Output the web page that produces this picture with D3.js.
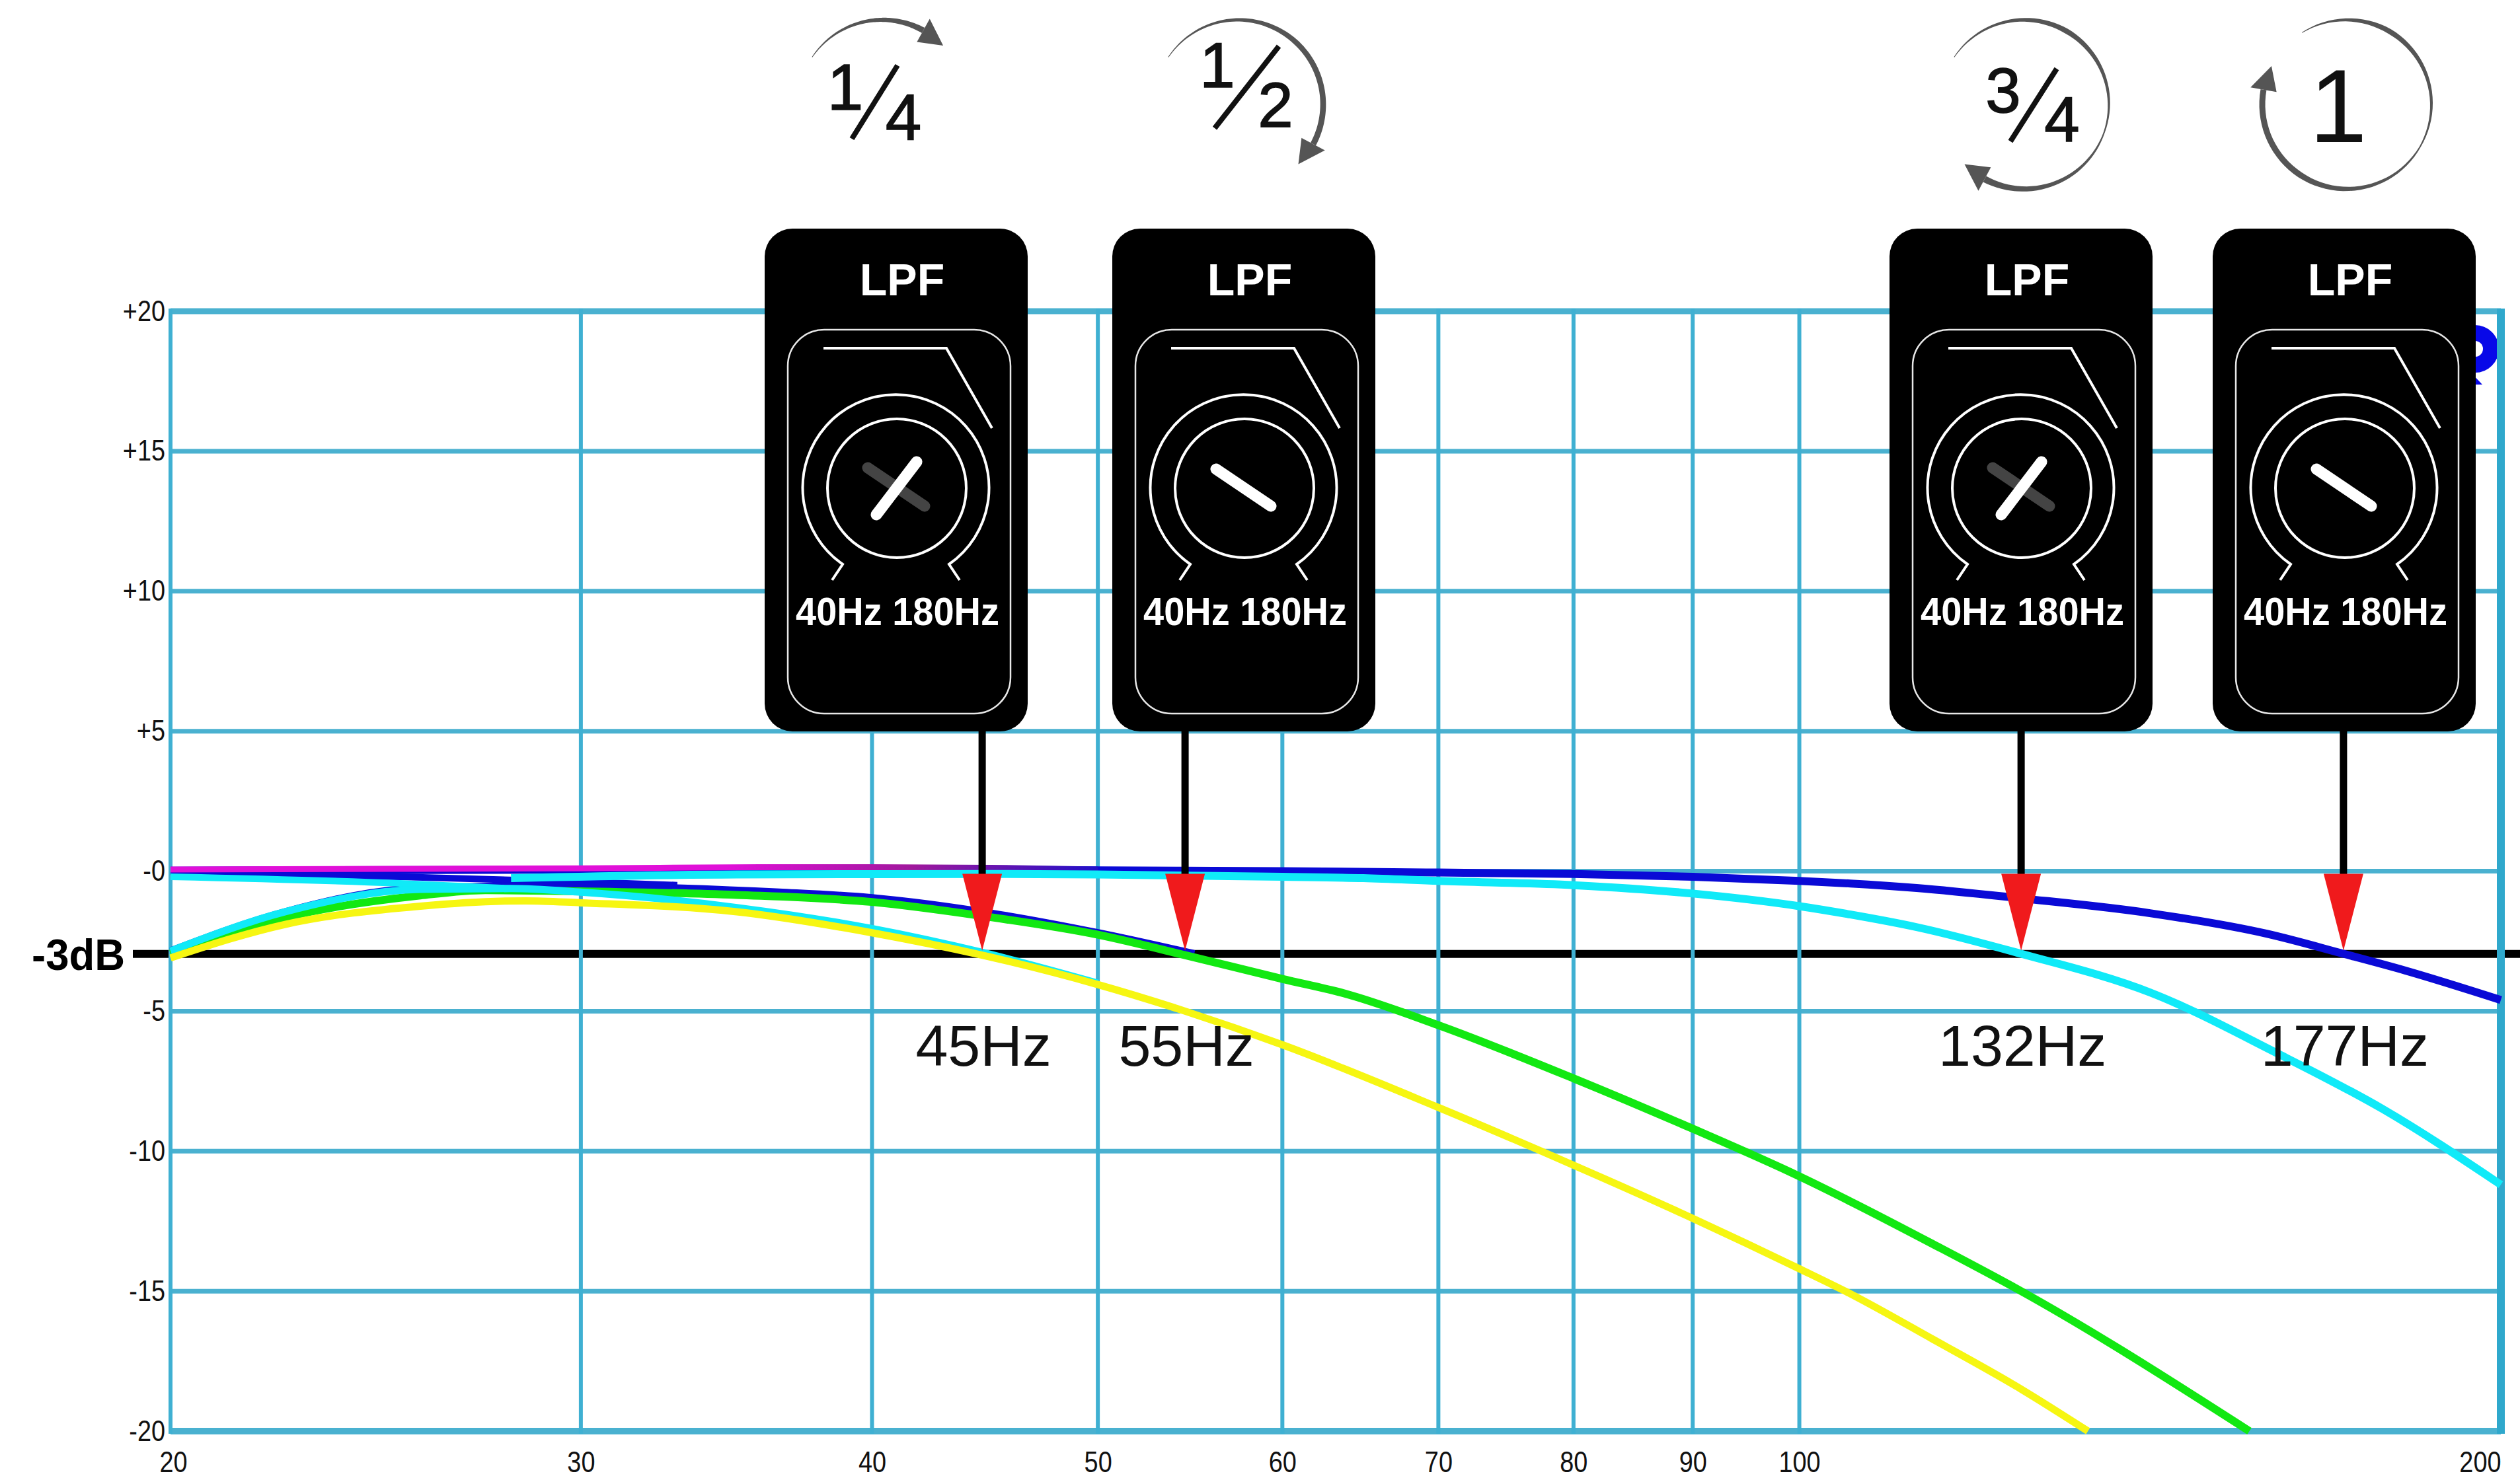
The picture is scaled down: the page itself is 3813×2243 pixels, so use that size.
<!DOCTYPE html>
<html>
<head>
<meta charset="utf-8">
<script src="https://cdn.jsdelivr.net/npm/d3@7"></script>
<style>
    html, body { margin: 0; padding: 0; background: #fff; }
    svg { display: block; }
    text { font-family: "Liberation Sans", Arial, sans-serif; }
</style>
</head>
<body>
<div id="chart"></div>
<script>
// axis ticks
const hzTicks = [20, 30, 40, 50, 60, 70, 80, 90, 100, 200];
const dbTicks = [20, 15, 10, 5, 0, -5, -10, -15, -20];
const dbTickLabels = ["+20", "+15", "+10", "+5", "-0", "-5", "-10", "-15", "-20"];

// curves (Hz / dB)
const magentaHz = [20, 25, 30, 36, 40, 45, 50];
const magentaDb = [0.06, 0.08, 0.1, 0.14, 0.14, 0.12, 0.06];

const navyHz = [20, 36, 45, 50, 60, 70, 80, 90, 100, 105.2, 112.3, 124.5, 141.4, 158.8, 171.2, 182, 200];
const navyDb = [0.02, 0.06, 0.05, 0.03, 0, -0.05, -0.1, -0.2, -0.35, -0.44, -0.6, -0.97, -1.5, -2.24, -2.95, -3.55, -4.6];

const navyLowHz = [20, 22.4, 25.6, 30, 33, 36.5, 40, 45, 50, 55];
const navyLowDb = [-2.85, -1.45, -0.6, -0.52, -0.6, -0.75, -0.95, -1.5, -2.2, -2.95];

const navyDipHz = [20, 25, 30, 33];
const navyDipDb = [-0.02, -0.2, -0.38, -0.5];

const cyanHz = [28, 35, 45, 50, 60, 65, 70, 80, 90, 100, 105.2, 112.3, 124.5, 141.4, 160.3, 178, 200];
const cyanDb = [-0.25, -0.12, -0.1, -0.12, -0.2, -0.25, -0.35, -0.5, -0.8, -1.25, -1.55, -2, -2.95, -4.33, -6.5, -8.5, -11.2];

const cyanDipHz = [20, 25, 28];
const cyanDipDb = [-0.2, -0.43, -0.62];

const cyanLowHz = [20, 22.4, 25.6, 28, 30, 35, 40, 44.6, 50];
const cyanLowDb = [-2.85, -1.45, -0.65, -0.62, -0.75, -1.3, -2.05, -2.9, -4];

const greenHz = [20, 22.4, 25.6, 27.3, 30, 35, 40, 44.6, 50, 54.5, 60, 64, 70, 80, 90, 100, 105.2, 114, 124.5, 156];
const greenDb = [-2.95, -1.65, -0.87, -0.68, -0.72, -0.85, -1.1, -1.6, -2.27, -3, -3.85, -4.4, -5.5, -7.4, -9.2, -10.9, -11.8, -13.3, -15, -20];

const yellowHz = [20, 22.4, 25.6, 28.4, 30, 35, 40, 44.6, 50, 54.5, 60, 70, 80, 90, 100, 105.2, 114, 124.5, 133];
const yellowDb = [-3.1, -1.9, -1.25, -1.06, -1.13, -1.45, -2.2, -3, -4.05, -5.0, -6.2, -8.44, -10.5, -12.4, -14.2, -15.1, -16.7, -18.5, -20];

// the four cutoff markers
const cutoffHz = [44.6, 54.5, 124.5, 171.2];
const cutoffLabels = ["45Hz", "55Hz", "132Hz", "177Hz"];

const width = 3813, height = 2243;
const plotLeft = 258, plotRight = 3784, plotTop = 471, plotBottom = 2166;

const gridColor = "#3fb0d2";

const x = d3.scaleLog().domain([20, 200]).range([plotLeft, plotRight]);
const y = d3.scaleLinear().domain([20, -20]).range([plotTop, plotBottom]);

const svg = d3.select("#chart").append("svg")
    .attr("width", width)
    .attr("height", height)
    .attr("viewBox", `0 0 ${width} ${height}`);

// magenta goes purple where the blue line shows through it
const fade = svg.append("defs").append("linearGradient")
    .attr("id", "magenta-fade")
    .attr("gradientUnits", "userSpaceOnUse")
    .attr("x1", x(20)).attr("x2", x(50))
    .attr("y1", 0).attr("y2", 0);
fade.append("stop").attr("offset", "0.6").attr("stop-color", "#e010d8");
fade.append("stop").attr("offset", "0.8").attr("stop-color", "#a0189c");
fade.append("stop").attr("offset", "1").attr("stop-color", "#2010c8");

// the cut-off blue logo behind the last box
svg.append("circle")
    .attr("cx", 3745).attr("cy", 528).attr("r", 24)
    .attr("fill", "none").attr("stroke", "#0808e8").attr("stroke-width", 24);
svg.append("path")
    .attr("d", "M3735,560 L3756,582 L3735,582 Z")
    .attr("fill", "#0808e8");

// horizontal grid
svg.append("g").selectAll("line")
    .data(dbTicks)
    .enter().append("line")
    .attr("x1", plotLeft)
    .attr("x2", plotRight)
    .attr("y1", d => y(d))
    .attr("y2", d => y(d))
    .attr("stroke", "#4ab1d0")
    .attr("stroke-width", d => d === -20 ? 10 : (d === 20 ? 9 : 7));

// -3dB reference line
svg.append("line")
    .attr("x1", 201).attr("x2", width)
    .attr("y1", y(-3) - 2).attr("y2", y(-3) - 2)
    .attr("stroke", "#000").attr("stroke-width", 12);

// vertical grid
svg.append("g").selectAll("line")
    .data(hzTicks)
    .enter().append("line")
    .attr("x1", d => x(d))
    .attr("x2", d => x(d))
    .attr("y1", plotTop - 4)
    .attr("y2", plotBottom + 4)
    .attr("stroke", d => d === 200 ? "#2fa8cc" : gridColor)
    .attr("stroke-width", d => d === 200 ? 12 : 6);

// axes, only used for their labels
const yAxis = svg.append("g")
    .attr("transform", `translate(${plotLeft},0)`)
    .call(d3.axisLeft(y).tickValues(dbTicks).tickSize(0).tickPadding(8)
        .tickFormat((d, i) => dbTickLabels[i]));
yAxis.select(".domain").remove();

const xAxis = svg.append("g")
    .attr("transform", `translate(0,${plotBottom})`)
    .call(d3.axisBottom(x).tickValues(hzTicks).tickSize(0).tickPadding(31)
        .tickFormat(d => d));
xAxis.select(".domain").remove();
xAxis.selectAll("text").filter(d => d === 200).attr("text-anchor", "end");
xAxis.selectAll("text").filter(d => d === 20).attr("dx", 4);

// the tick labels are narrow in the picture
svg.selectAll(".tick text")
    .attr("font-family", "'Liberation Sans', Arial, sans-serif")
    .attr("font-size", 44)
    .attr("fill", "#111")
    .each(function() {
        const w = this.getComputedTextLength();
        d3.select(this)
            .attr("textLength", w * 0.86)
            .attr("lengthAdjust", "spacingAndGlyphs");
    });

// curves
const line = d3.line()
    .x(d => x(d[0]))
    .y(d => y(d[1]))
    .curve(d3.curveMonotoneX);

const curves = [
    [navyHz, navyDb, "#0a0ad6", 12],
    [navyDipHz, navyDipDb, "#0a0ad6", 10],
    [navyLowHz, navyLowDb, "#0a0ad6", 11],
    [magentaHz, magentaDb, "url(#magenta-fade)", 9],
    [greenHz, greenDb, "#12e812", 12],
    [cyanHz, cyanDb, "#10eaf8", 12],
    [cyanDipHz, cyanDipDb, "#10eaf8", 10],
    [cyanLowHz, cyanLowDb, "#10eaf8", 11],
    [yellowHz, yellowDb, "#f6f612", 11]
];
curves.forEach(([hz, db, color, w]) => {
    svg.append("path")
        .attr("d", line(hz.map((f, i) => [f, db[i]])))
        .attr("fill", "none")
        .attr("stroke", color)
        .attr("stroke-width", w);
});

// -3dB label
svg.append("text")
    .attr("x", 189).attr("y", 1468)
    .attr("text-anchor", "end")
    .attr("font-size", 67)
    .attr("font-weight", "bold")
    .attr("textLength", 141)
    .attr("lengthAdjust", "spacingAndGlyphs")
    .text("-3dB");

// stems and red arrows
const stems = svg.append("g");
cutoffHz.forEach((f, i) => {
    const cx = x(f);
    const tip = y(-3) - 7;
    stems.append("line")
        .attr("x1", cx).attr("x2", cx)
        .attr("y1", 1100).attr("y2", y(0) + 5)
        .attr("stroke", "#000").attr("stroke-width", 11);
    stems.append("path")
        .attr("d", `M${cx - 30},${y(0) + 4} L${cx + 30},${y(0) + 4} L${cx},${tip} Z`)
        .attr("fill", "#f01a1c");
    svg.append("text")
        .attr("x", cx + 2).attr("y", 1613)
        .attr("text-anchor", "middle")
        .attr("font-size", 88)
        .attr("fill", "#111")
        .text(cutoffLabels[i]);
});

// LPF boxes
const boxX = [1157, 1683, 2859, 3348];
const boxTop = 346;
const ghosted = [true, false, true, false];

boxX.forEach((bx, i) => {
    const g = svg.append("g").attr("transform", `translate(${bx},${boxTop})`);
    g.append("rect")
        .attr("width", 398).attr("height", 761).attr("rx", 42)
        .attr("fill", "#000");
    g.append("rect")
        .attr("x", 35).attr("y", 153)
        .attr("width", 337).attr("height", 581).attr("rx", 55)
        .attr("fill", "none").attr("stroke", "#e8e8e8").attr("stroke-width", 2.5);
    g.append("text")
        .attr("x", 208).attr("y", 101)
        .attr("text-anchor", "middle")
        .attr("font-size", 68).attr("font-weight", "bold")
        .attr("fill", "#fff")
        .text("LPF");
    g.append("path")
        .attr("d", "M89,181 L275,181 L344,302")
        .attr("fill", "none").attr("stroke", "#fff").attr("stroke-width", 4);
    g.append("circle")
        .attr("cx", 200).attr("cy", 393).attr("r", 105)
        .attr("fill", "none").attr("stroke", "#fff").attr("stroke-width", 4);
    g.append("path")
        .attr("d", "M102,532 L118,508 A141,141 0 1 1 279,508 L295,532")
        .attr("fill", "none").attr("stroke", "#fff").attr("stroke-width", 4);
    if (ghosted[i]) {
        g.append("line")
            .attr("x1", 156).attr("y1", 362).attr("x2", 242).attr("y2", 420)
            .attr("stroke", "#444").attr("stroke-width", 17).attr("stroke-linecap", "round");
        g.append("line")
            .attr("x1", 169).attr("y1", 433).attr("x2", 230).attr("y2", 353)
            .attr("stroke", "#fff").attr("stroke-width", 17).attr("stroke-linecap", "round");
    } else {
        g.append("line")
            .attr("x1", 157).attr("y1", 364).attr("x2", 240).attr("y2", 420)
            .attr("stroke", "#fff").attr("stroke-width", 17).attr("stroke-linecap", "round");
    }
    g.append("text")
        .attr("x", 47).attr("y", 600)
        .attr("font-size", 60).attr("font-weight", "bold")
        .attr("fill", "#fff")
        .attr("textLength", 308).attr("lengthAdjust", "spacingAndGlyphs")
        .text("40Hz 180Hz");
});

// turn dials above the boxes: a circle whose thickness swells along its length
const dials = [
    { cx: 1335, cy: 158, from: -56, to: 46, angles: [-56, 29], widths: [1, 9] },
    { cx: 1874, cy: 158, from: -56, to: 135, angles: [-56, 40, 118], widths: [1, 8, 9] },
    { cx: 3063, cy: 158, from: -56, to: 225, angles: [-56, 30, 110, 208], widths: [1, 8, 2, 10] },
    { cx: 3551, cy: 158, from: -32, to: 297, angles: [-32, 30, 120, 215, 280], widths: [1, 8, 2, 9, 9] }
];
const dialR = 128;
const polar = (d, a, r) => {
    const t = a * Math.PI / 180;
    return [d.cx + r * Math.sin(t), d.cy - r * Math.cos(t)];
};
dials.forEach(d => {
    const headStart = d.to - 17;
    const widthAt = d3.scaleLinear().domain(d.angles).range(d.widths);
    const outer = [], inner = [];
    d3.range(0, 81).forEach(k => {
        const a = d.from + (headStart - d.from) * k / 80;
        const w = widthAt(a);
        outer.push(polar(d, a, dialR + w / 2));
        inner.push(polar(d, a, dialR - w / 2));
    });
    svg.append("path")
        .attr("d", d3.line()(outer.concat(inner.reverse())) + "Z")
        .attr("fill", "#555");
    const tip = polar(d, d.to, dialR);
    const b1 = polar(d, headStart, dialR + 20);
    const b2 = polar(d, headStart, dialR - 20);
    svg.append("path")
        .attr("d", `M${tip[0]},${tip[1]} L${b1[0]},${b1[1]} L${b2[0]},${b2[1]} Z`)
        .attr("fill", "#555");
});

// fractions
const fractions = [
    { top: "1", tx: 1279, ty: 166, bottom: "4", bx: 1367, by: 211, slash: [1358, 99, 1289, 210], size: 98 },
    { top: "1", tx: 1842, ty: 132, bottom: "2", bx: 1930, by: 192, slash: [1935, 70, 1838, 194], size: 96 },
    { top: "3", tx: 3031, ty: 170, bottom: "4", bx: 3120, by: 214, slash: [3112, 104, 3042, 214], size: 96 }
];
fractions.forEach(f => {
    [[f.top, f.tx, f.ty], [f.bottom, f.bx, f.by]].forEach(([t, tx, ty]) => {
        svg.append("text")
            .attr("x", tx).attr("y", ty)
            .attr("text-anchor", "middle")
            .attr("font-size", f.size)
            .attr("fill", "#111")
            .attr("stroke", "#111")
            .attr("stroke-width", 1.5)
            .text(t);
    });
    svg.append("line")
        .attr("x1", f.slash[0]).attr("y1", f.slash[1])
        .attr("x2", f.slash[2]).attr("y2", f.slash[3])
        .attr("stroke", "#111").attr("stroke-width", 8);
});
svg.append("text")
    .attr("x", 3538).attr("y", 215)
    .attr("text-anchor", "middle")
    .attr("font-size", 157)
    .attr("fill", "#111")
    .text("1");
</script>
</body>
</html>
